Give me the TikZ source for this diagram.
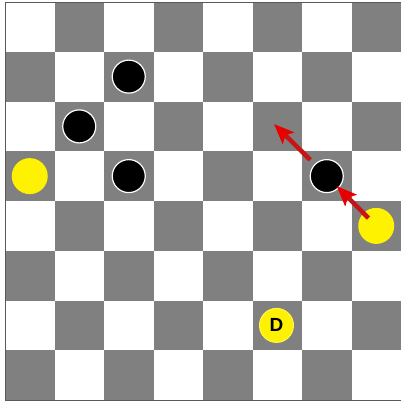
\documentclass[tikz,border=0pt]{standalone}
\usepackage{fontspec}
\setmainfont{Liberation Sans}
\usetikzlibrary{arrows.meta}
\definecolor{sq}{RGB}{128,128,128}
\definecolor{shaft}{RGB}{200,20,20}
\definecolor{headred}{RGB}{232,0,0}
\definecolor{pyellow}{RGB}{255,242,0}
\begin{document}
\begin{tikzpicture}[x=1pt,y=-1pt,
  blackpc/.style={circle,fill=black,draw=white,line width=1.2pt,minimum size=33pt,inner sep=0pt},
  yellowpc/.style={circle,fill=pyellow,draw=none,minimum size=36pt,inner sep=0pt},
  dpc/.style={circle,fill=pyellow,draw=pyellow!70!white,line width=1pt,minimum size=34pt,inner sep=0pt,font=\bfseries\fontsize{19}{19}\selectfont},
  movearrow/.style={draw=shaft,line width=4.5pt,-{Stealth[length=20pt,width=16pt,inset=4pt,fill=headred,color=headred]}}]
\useasboundingbox (0,0) rectangle (401,405);
\fill[white] (0,0) rectangle (401,405);
% board squares
\foreach \r in {0,...,7}{
  \foreach \c in {0,...,7}{
    \pgfmathtruncatemacro{\pty}{mod(\r+\c,2)}
    \ifnum\pty=1
      \fill[sq] ({5+\c*49.5},{2+\r*49.75}) rectangle ({5+(\c+1)*49.5},{2+(\r+1)*49.75});
    \fi
  }
}
\draw[gray!70!black,line width=1pt] (5,2) rectangle (401,400);
% pieces
\node[blackpc] (b1) at (128.75,76.6) {};
\node[blackpc] (b2) at (79.25,126.4) {};
\node[blackpc] (b3) at (128.75,176.1) {};
\node[blackpc] (b4) at (326.75,176.1) {};
\node[yellowpc] (y1) at (29.75,176.1) {};
\node[yellowpc] (y2) at (376.25,225.9) {};
\node[dpc] (d) at (276.5,325.4) {D};
\coordinate (t) at (274,124);
% move arrows
\draw[movearrow,shorten <=11pt,shorten >=-3pt] (y2.center) -- (b4);
\draw[movearrow,shorten <=6pt] (b4) -- (t);
\end{tikzpicture}
\end{document}
